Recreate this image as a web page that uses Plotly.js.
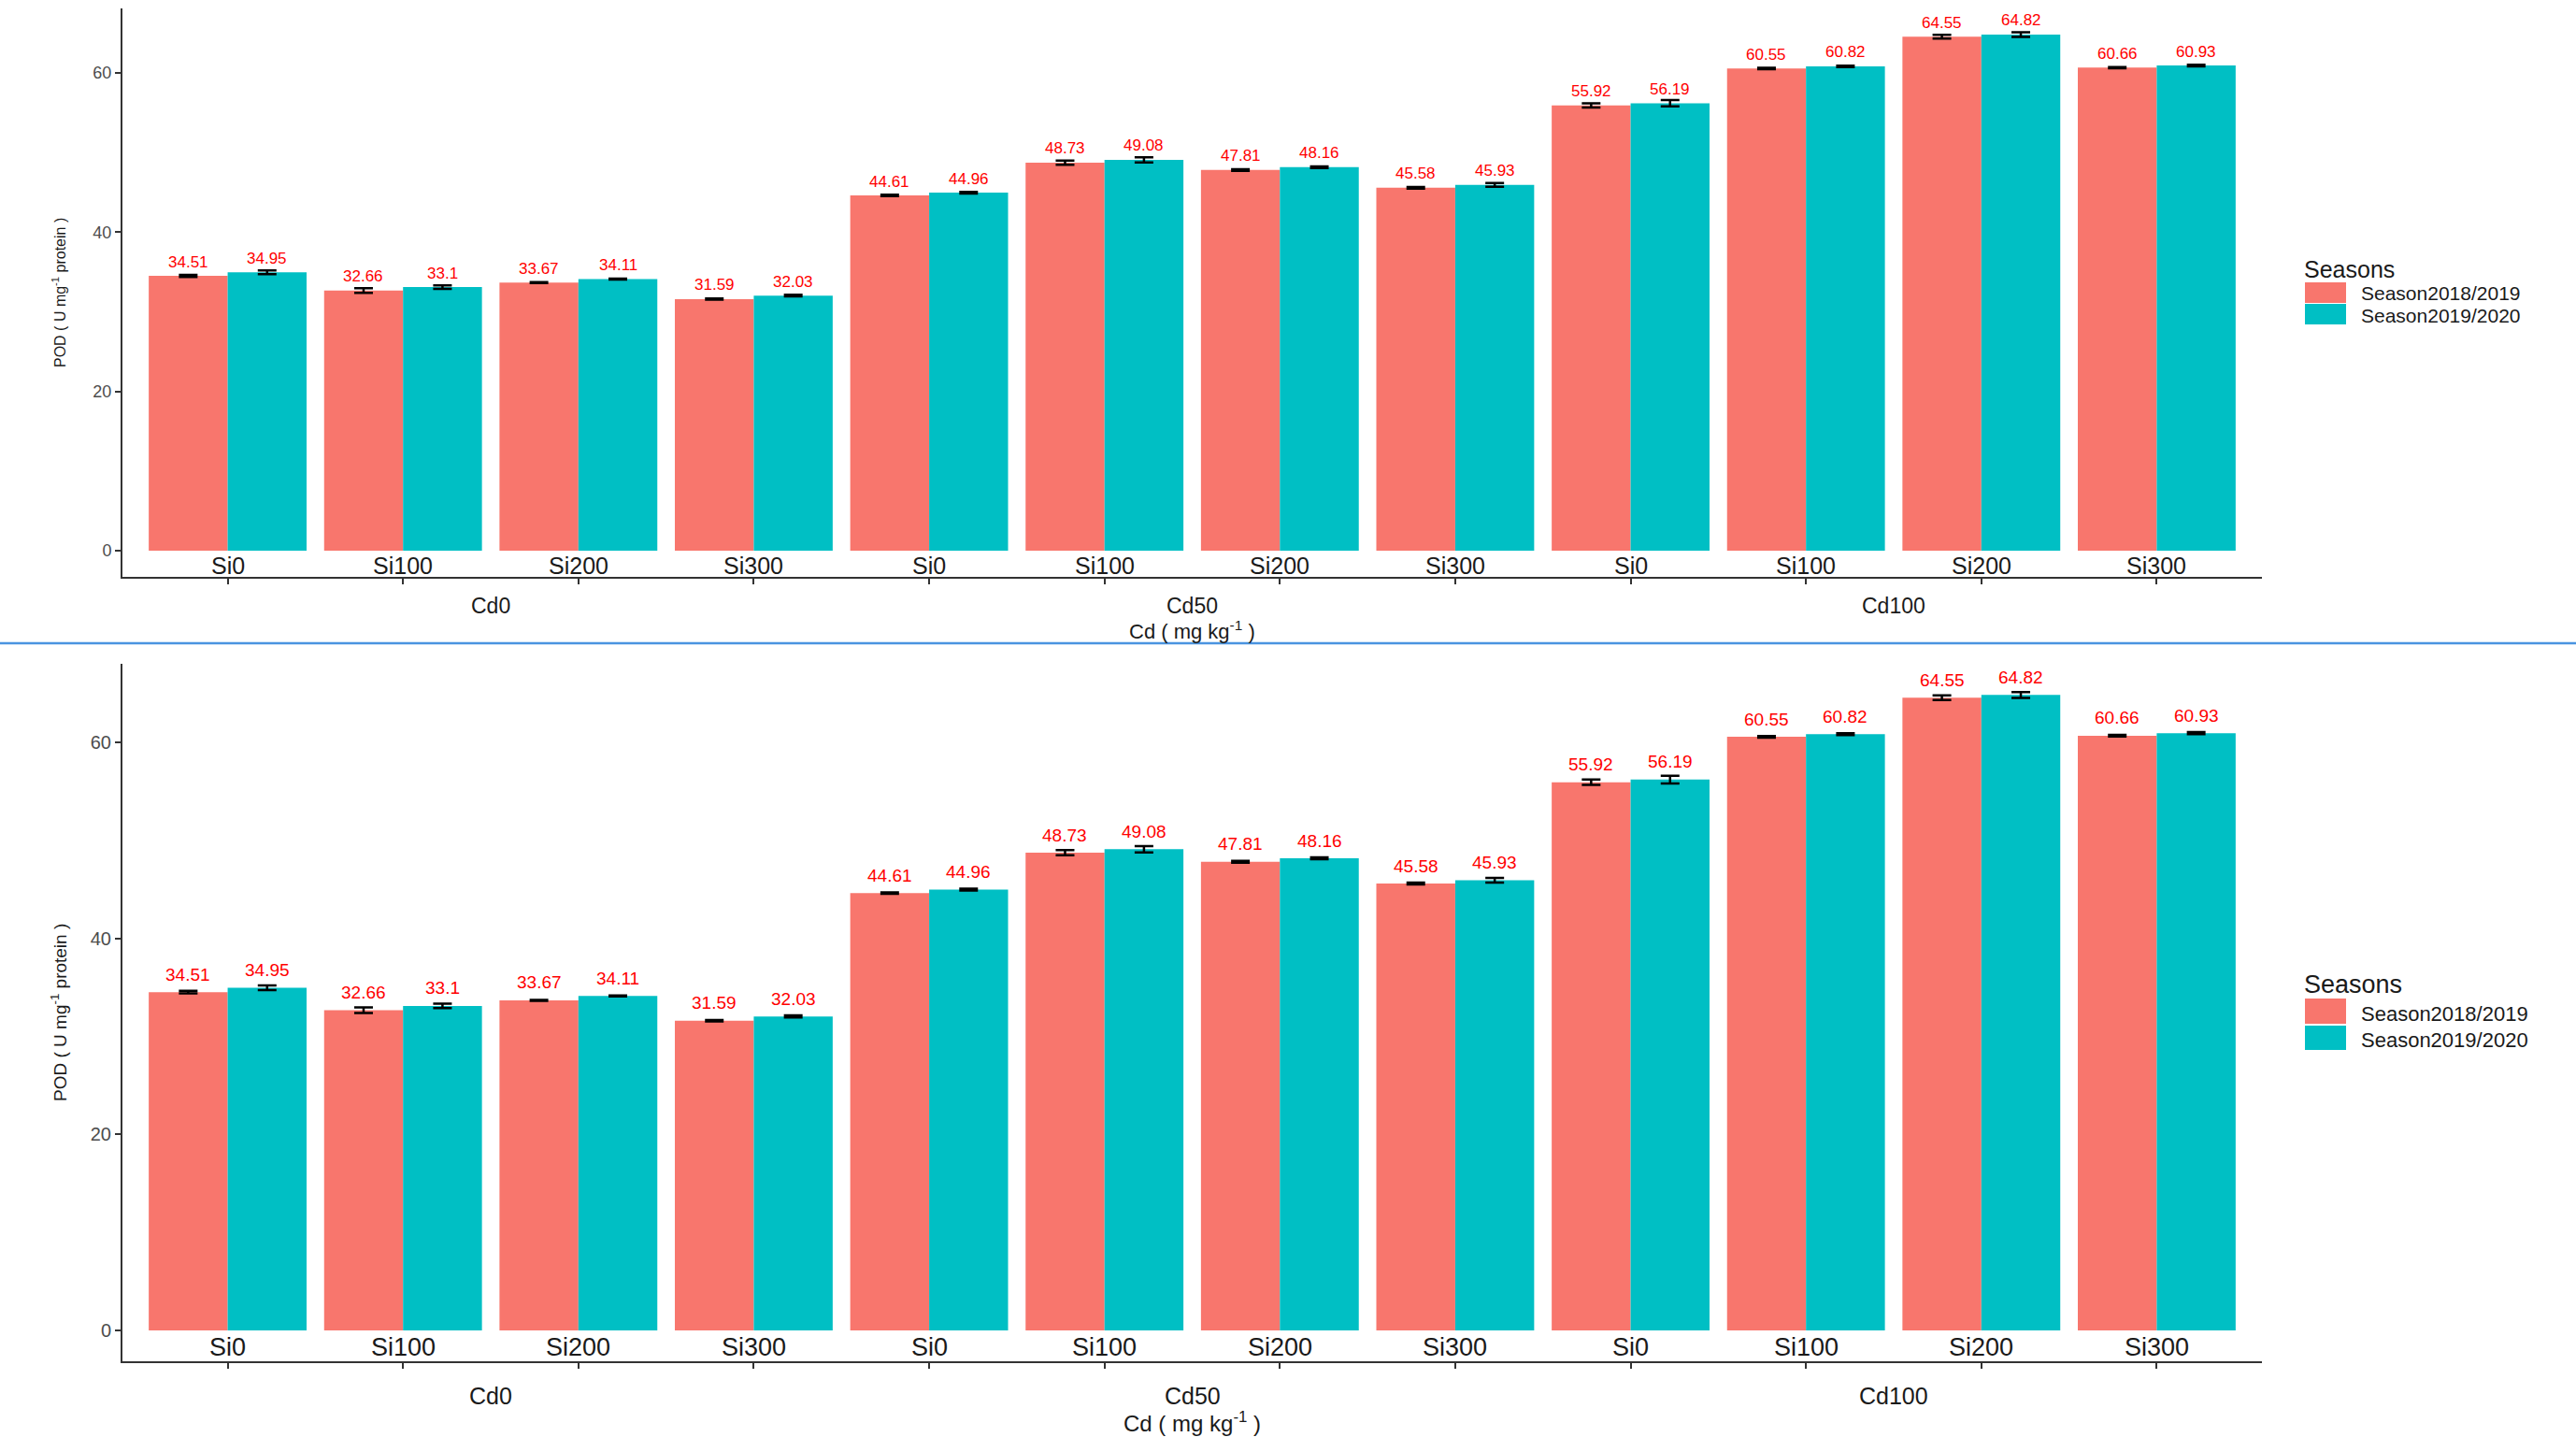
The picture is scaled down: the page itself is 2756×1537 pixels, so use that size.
<!DOCTYPE html>
<html>
<head>
<meta charset="utf-8">
<script src="https://cdn.plot.ly/plotly-3.0.1.min.js"></script>
<style>
  html, body { margin: 0; padding: 0; background: #fff; }
  #chart { width: 2756px; height: 1537px; }
</style>
</head>
<body>
<div id="chart"></div>
<script>
// values (same data drawn in both panels)
const siLevels = ['Si0', 'Si100', 'Si200', 'Si300', 'Si0', 'Si100', 'Si200', 'Si300', 'Si0', 'Si100', 'Si200', 'Si300'];
const cdLevels = ['Cd0', 'Cd50', 'Cd100'];
const seasons = ['Season2018/2019', 'Season2019/2020'];
const pod2018 = [34.51, 32.66, 33.67, 31.59, 44.61, 48.73, 47.81, 45.58, 55.92, 60.55, 64.55, 60.66];
const pod2019 = [34.95, 33.1, 34.11, 32.03, 44.96, 49.08, 48.16, 45.93, 56.19, 60.82, 64.82, 60.93];
const se2018 = [0.13, 0.29, 0.05, 0.08, 0.08, 0.27, 0.1, 0.1, 0.27, 0.08, 0.24, 0.08];
const se2019 = [0.24, 0.22, 0.05, 0.1, 0.1, 0.32, 0.1, 0.24, 0.4, 0.1, 0.29, 0.1];
const yTicks = [0, 20, 40, 60];

const seasonColors = ['#F8766D', '#00BFC4'];
const FONT = 'Liberation Sans, Arial, sans-serif';
const W = 2756, H = 1537;
const px = x => x / W;
const py = y => 1 - y / H;

const series = [pod2018, pod2019];
const errors = [se2018, se2019];
const idx = siLevels.map((s, i) => i);

// pixel boxes of the two panels, and their text sizes
const panels = [
  { xa: 'x', ya: 'y', top: 9, bottom: 617, yr: [-3.29, 68.1], siY: -1.88, cdY: 648, titleY: 674,
    valSize: 17, valShift: 15, siSize: 25, cdSize: 23, xtSize: 22, tickSize: 18, ytSize: 16,
    legTitle: 288, legKeys: [[302, 324], [325, 347]], legText: [313, 337], legSize: 21, legTitleSize: 25 },
  { xa: 'x2', ya: 'y2', top: 710, bottom: 1456, yr: [-3.15, 68.0], siY: -1.72, cdY: 1493, titleY: 1521,
    valSize: 19, valShift: 19, siSize: 27, cdSize: 25, xtSize: 24, tickSize: 20, ytSize: 19,
    legTitle: 1053, legKeys: [[1068, 1095], [1097, 1123]], legText: [1084, 1112], legSize: 22, legTitleSize: 27 }
];

const data = [];
const annotations = [];
const shapes = [];
const layout = {
  width: W, height: H,
  margin: { l: 0, r: 0, t: 0, b: 0 },
  paper_bgcolor: '#fff', plot_bgcolor: '#fff',
  barmode: 'group', bargap: 0.1, bargroupgap: 0,
  showlegend: false,
  font: { family: FONT, color: '#1a1a1a' }
};

panels.forEach((p, k) => {
  const sfx = k === 0 ? '' : '2';
  layout['xaxis' + sfx] = {
    domain: [px(131), px(2420)], anchor: p.ya,
    range: [-0.6, 11.6], tickvals: idx, showticklabels: false,
    ticks: 'outside', ticklen: 6, tickwidth: 2, tickcolor: '#333',
    showline: true, linecolor: '#333', linewidth: 2,
    showgrid: false, zeroline: false, fixedrange: true
  };
  layout['yaxis' + sfx] = {
    domain: [py(p.bottom), py(p.top)], anchor: p.xa,
    range: p.yr, tickvals: yTicks,
    ticks: 'outside', ticklen: 6, tickwidth: 2, tickcolor: '#333',
    tickfont: { size: p.tickSize, color: '#4D4D4D', family: FONT },
    showline: true, linecolor: '#333', linewidth: 2,
    showgrid: false, zeroline: false, fixedrange: true
  };

  seasons.forEach((name, s) => {
    data.push({
      type: 'bar', name: name, x: idx, y: series[s],
      xaxis: p.xa, yaxis: p.ya,
      marker: { color: seasonColors[s], line: { width: 0 } },
      error_y: { type: 'data', array: errors[s], visible: true, color: '#000', thickness: 2.5, width: 10 },
      hoverinfo: 'name+y'
    });
    // red value labels above each bar
    series[s].forEach((v, i) => {
      annotations.push({
        xref: p.xa, yref: p.ya, x: i + (s === 0 ? -0.225 : 0.225), y: v,
        yanchor: 'middle', yshift: p.valShift, showarrow: false,
        text: String(v), font: { size: p.valSize, color: '#FF0000', family: FONT }
      });
    });
  });

  // Si labels sit between bars and axis line
  siLevels.forEach((s, i) => {
    annotations.push({
      xref: p.xa, yref: p.ya, x: i, y: p.siY, yanchor: 'middle', showarrow: false,
      text: s, font: { size: p.siSize, color: '#1a1a1a', family: FONT }
    });
  });
  // Cd group labels under the axis
  cdLevels.forEach((c, j) => {
    annotations.push({
      xref: p.xa, yref: 'paper', x: 1.5 + 4 * j, y: py(p.cdY), yanchor: 'middle', showarrow: false,
      text: c, font: { size: p.cdSize, color: '#1a1a1a', family: FONT }
    });
  });
  // axis titles
  annotations.push({
    xref: p.xa, yref: 'paper', x: 5.5, y: py(p.titleY), yanchor: 'middle', showarrow: false,
    text: 'Cd ( mg kg<sup>-1</sup> )', font: { size: p.xtSize, color: '#1a1a1a', family: FONT }
  });
  annotations.push({
    xref: 'paper', yref: 'paper', x: px(63), y: py((p.top + p.bottom) / 2),
    xanchor: 'center', yanchor: 'middle', textangle: -90, showarrow: false,
    text: 'POD ( U mg<sup>-1</sup> protein )', font: { size: p.ytSize, color: '#1a1a1a', family: FONT }
  });

  // legend drawn by hand so the keys match the reference size
  annotations.push({
    xref: 'paper', yref: 'paper', x: px(2463), y: py(p.legTitle), xanchor: 'left', yanchor: 'middle',
    showarrow: false, text: 'Seasons', font: { size: p.legTitleSize, color: '#1a1a1a', family: FONT }
  });
  seasons.forEach((name, s) => {
    shapes.push({
      type: 'rect', xref: 'paper', yref: 'paper',
      x0: px(2466), x1: px(2510), y0: py(p.legKeys[s][1]), y1: py(p.legKeys[s][0]),
      fillcolor: seasonColors[s], line: { width: 0 }
    });
    annotations.push({
      xref: 'paper', yref: 'paper', x: px(2524), y: py(p.legText[s]), xanchor: 'left', yanchor: 'middle',
      showarrow: false, text: name, font: { size: p.legSize, color: '#1a1a1a', family: FONT }
    });
  });
});

// thin blue rule between the two panels
shapes.push({
  type: 'line', xref: 'paper', yref: 'paper', x0: 0, x1: 1, y0: py(688), y1: py(688),
  line: { color: '#4A94E0', width: 2.5 }
});

layout.annotations = annotations;
layout.shapes = shapes;

Plotly.newPlot('chart', data, layout, { displayModeBar: false, staticPlot: true });
</script>
</body>
</html>
